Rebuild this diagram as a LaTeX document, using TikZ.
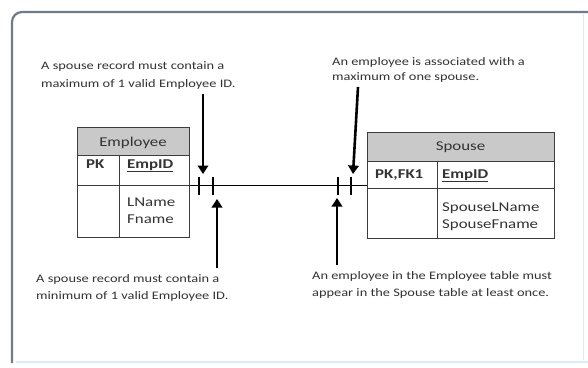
\documentclass[tikz,border=0pt]{standalone}
\usepackage{fontspec}
\setmainfont{Carlito}[FakeStretch=1.25]
\usetikzlibrary{arrows.meta}
\definecolor{framec}{HTML}{6E7B8C}
\definecolor{framelight}{HTML}{DCEAF6}
\definecolor{txt}{HTML}{333333}
\definecolor{hdr}{HTML}{C9C9C9}
\definecolor{tline}{HTML}{3C3C3C}
\tikzset{
  note/.style={anchor=base west, align=left, inner sep=0pt, text=txt},
  cell/.style={anchor=base west, inner sep=0pt, text=txt, font=\fontsize{13.5}{17}\selectfont},
  tbl/.style={draw=tline, line width=1pt, anchor=north west, inner sep=0pt},
  callout/.style={line width=2.6pt, -{Triangle[width=10.5pt,length=8.5pt]}},
  tickmark/.style={line width=2pt},
  conn/.style={line width=1.5pt}
}
\begin{document}
\begin{tikzpicture}[x=1pt,y=-1pt]
\useasboundingbox (0,0) rectangle (588,367);
\fill[white] (0,0) rectangle (588,367);
% frame
\draw[framelight, line width=1.5pt] (16,362) -- (588,362);
\draw[framelight, line width=1pt] (583,14) -- (583,360);
\draw[framec, line width=2.2pt, rounded corners=10pt] (588,12) -- (12,12) -- (12,363);
% Employee table
\node[tbl, fill=hdr, minimum width=112pt, minimum height=28pt] (emphead) at (77,127) {};
\node[tbl, minimum width=112pt, minimum height=110pt] (emp) at (77,127) {};
\draw[tline, line width=1pt] (77,155) -- (189,155);
\draw[tline, line width=1pt] (77,185) -- (189,185);
\draw[tline, line width=1pt] (119,155) -- (119,237);
\node[cell, anchor=base] (emptitle) at (133,146) {Employee};
\node[cell] (emppk) at (86,168) {\textbf{PK}};
\node[cell] (empid) at (127,168) {\textbf{\underline{EmpID}}};
\node[cell, align=left] (empattr) at (127,223) {LName\\Fname};
% Spouse table
\node[tbl, fill=hdr, minimum width=187pt, minimum height=29pt] (sphead) at (367,132) {};
\node[tbl, minimum width=187pt, minimum height=106pt] (sp) at (367,132) {};
\draw[tline, line width=1pt] (367,161) -- (554,161);
\draw[tline, line width=1pt] (367,188) -- (554,188);
\draw[tline, line width=1pt] (437,161) -- (437,238);
\node[cell, anchor=base] (sptitle) at (460.5,150) {Spouse};
\node[cell] (sppk) at (375,178) {\textbf{PK,FK1}};
\node[cell] (spid) at (442,178) {\textbf{\underline{EmpID}}};
\node[cell, align=left] (spattr) at (442,228) {SpouseLName\\SpouseFname};
% connector
\draw[conn] (emp.east |- sp.west) -- (sp.west);
\draw[tickmark] (199,177) -- (199,195);
\draw[tickmark] (213,177) -- (213,195);
\draw[tickmark] (338,177) -- (338,195);
\draw[tickmark] (351,177) -- (351,195);
% notes
\node[note, font=\fontsize{11.5}{18}\selectfont] (n1) at (41,87) {A spouse record must contain a\\maximum of 1 valid Employee ID.};
\node[note, font=\fontsize{11.5}{15.5}\selectfont] (n2) at (332,80.5) {An employee is associated with a\\maximum of one spouse.};
\node[note, font=\fontsize{11.5}{17.5}\selectfont] (n3) at (36,299.5) {A spouse record must contain a\\minimum of 1 valid Employee ID.};
\node[note, font=\fontsize{11.5}{16.8}\selectfont] (n4) at (312,296) {An employee in the Employee table must\\appear in the Spouse table at least once.};
% callout arrows
\coordinate (a1s) at (203,94);  \coordinate (a1e) at (203,174);
\coordinate (a2s) at (217,268); \coordinate (a2e) at (217,199);
\coordinate (a3s) at (358,87);  \coordinate (a3e) at (353,174);
\coordinate (a4s) at (337,265); \coordinate (a4e) at (337,198);
\draw[callout] (a1s) -- (a1e);
\draw[callout] (a2s) -- (a2e);
\draw[callout] (a3s) -- (a3e);
\draw[callout] (a4s) -- (a4e);
\end{tikzpicture}
\end{document}
